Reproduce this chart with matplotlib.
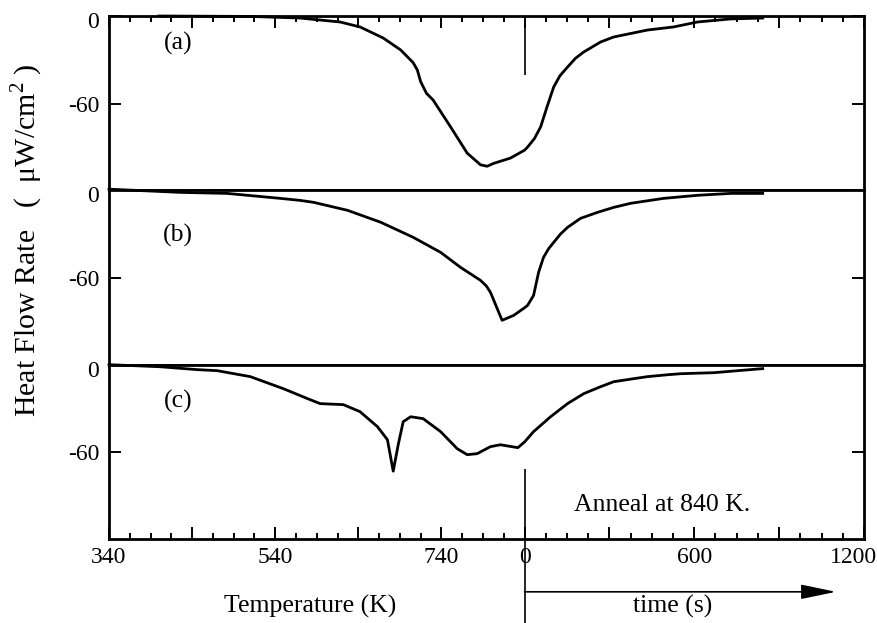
import numpy as np
import matplotlib
matplotlib.use('Agg')
import matplotlib.pyplot as plt
import matplotlib.transforms as mtransforms

plt.rcParams['font.family'] = ['Liberation Serif', 'DejaVu Serif']
plt.rcParams['mathtext.fontset'] = 'custom'
plt.rcParams['mathtext.rm'] = 'Liberation Serif'

# heat flow (uW/cm^2) during the temperature scan (K) and then the anneal at 840 K (s)
a_temp = [400, 510, 570, 618, 642, 670, 691, 706, 711, 715, 722, 730, 751, 771, 787, 795, 803, 823, 840]
a_temp_val = [0, -0.3, -1.4, -4.1, -7.5, -15.1, -23.3, -32, -37, -45, -53, -57.6, -76, -94, -102, -103,
              -101, -97.4, -92]
a_time = [0, 11, 35, 57, 80, 103, 125, 152, 180, 209, 269, 315, 435, 527, 612, 729, 842]
a_time_val = [-92, -89.8, -84, -76, -62, -48.7, -41, -35, -29, -24.7, -17.8, -14.4, -9.6, -7.5, -4.1,
              -2, -1.4]

b_temp = [340, 426, 482, 546, 570, 586, 627, 667, 706, 739, 763, 787, 794, 799, 807, 813, 827, 840]
b_temp_val = [0.8, -1.4, -2.1, -5.5, -6.9, -8.2, -13.7, -21.9, -32.2, -42.5, -52.8, -61.7, -65.5, -69.9,
              -80.9, -89.1, -85.7, -80.5]
b_time = [0, 11, 32, 50, 67, 85, 103, 127, 152, 198, 258, 315, 375, 492, 612, 729, 842]
b_time_val = [-80.5, -78.8, -72, -56, -46, -40, -35.7, -30, -25.4, -19.2, -15.1, -11.7, -8.9, -5.5,
              -3.4, -2.1, -2.1]

c_temp = [340, 401, 446, 470, 510, 550, 579, 594, 622, 642, 663, 675, 682, 688, 694, 703, 718, 739,
          759, 771, 783, 799, 811, 832, 840]
c_temp_val = [0, -1.4, -3.4, -4.1, -8.2, -16.5, -23.3, -26.7, -27.4, -32.2, -42.5, -51.4, -73, -54.9,
              -39.1, -35.7, -37, -45.9, -57.6, -61.7, -61, -56.2, -54.9, -56.9, -53]
c_time = [0, 32, 92, 152, 209, 269, 315, 386, 435, 506, 552, 669, 842]
c_time_val = [-53, -45.9, -35.7, -26.7, -19.9, -15.1, -11.7, -9.6, -8.2, -6.9, -6.2, -5.5, -2.7]

T0, T1 = 340, 840
T_END = 1200
K_PER_S = 0.3404   # width of one second of anneal, in kelvin of the scan axis


def t2u(t):
    return T1 + np.asarray(t, dtype=float) * K_PER_S


fig = plt.figure(figsize=(8.78, 6.23), dpi=100)
left, right = 109 / 878, 864 / 878
bottom, top = 1 - 539 / 623, 1 - 16 / 623
h = (top - bottom) / 3
axes = [fig.add_axes([left, top - (i + 1) * h, right - left, h]) for i in range(3)]

curves = [(a_temp, a_temp_val, a_time, a_time_val),
          (b_temp, b_temp_val, b_time, b_time_val),
          (c_temp, c_temp_val, c_time, c_time_val)]
tags = ['(a)', '(b)', '(c)']
tag_y = [-18.5, -30.9, -25.4]

tfs = 17
fs = 18.5

for ax, (tx, tv, sx, sv), tag, ty in zip(axes, curves, tags, tag_y):
    u = np.concatenate([np.asarray(tx, float), t2u(sx)[1:]])
    v = np.concatenate([tv, sv[1:]])
    ax.plot(u, v, color='black', lw=2.0, clip_on=False, solid_joinstyle='round')
    ax.set_xlim(T0, t2u(T_END))
    ax.set_ylim(-119.5, 0)
    ax.set_yticks([0, -60], ['0', '-60'])
    ax.tick_params(axis='y', direction='in', left=True, right=True, length=8.5,
                   width=1.4, labelsize=tfs, pad=7)
    ax.tick_params(axis='x', bottom=False, top=False, labelbottom=False)
    for s in ax.spines.values():
        s.set_linewidth(2.0)
    ax.text(423, ty, tag, fontsize=fs, ha='center', va='center')
    # the zero labels sit a little below the panel edge
    zl = ax.yaxis.get_major_ticks()[0].label1
    zl.set_transform(zl.get_transform() +
                     mtransforms.ScaledTranslation(0, -4 / 100, fig.dpi_scale_trans))

major_T = np.arange(T0, T1 + 1, 100)
major_t = np.arange(300, T_END + 1, 300)
major_u = np.concatenate([major_T, t2u(major_t)])
major_lab = ['340', '', '540', '', '740', '0', '', '600', '', '1200']
minor_u = np.concatenate([np.arange(T0, T1 + 1, 25), t2u(np.arange(0, T_END + 1, 75))])

ax_a, ax_b, ax_c = axes
for ax in (ax_a, ax_c):
    ax.set_xticks(major_u, major_lab)
    ax.set_xticks(minor_u, minor=True)
ax_a.tick_params(axis='x', which='both', top=True, bottom=False, labeltop=False,
                 labelbottom=False, direction='in', width=1.4)
ax_c.tick_params(axis='x', which='both', bottom=True, top=False, labelbottom=True,
                 direction='in', width=1.4, labelsize=tfs, pad=6)
for ax in (ax_a, ax_c):
    ax.tick_params(axis='x', which='major', length=8.5)
    ax.tick_params(axis='x', which='minor', length=4.5)

# nudge the last time label inside the figure
lab = ax_c.xaxis.get_major_ticks()[-1].label1
lab.set_transform(lab.get_transform() +
                  mtransforms.ScaledTranslation(-11 / 100, 0, fig.dpi_scale_trans))

# start of the anneal
ax_a.vlines(T1, -40.5, 0, color='black', lw=1.2)
ax_c.vlines(T1, -178, -71.3, color='black', lw=1.2, clip_on=False)
ax_c.annotate('', xy=(t2u(1101), -155.7), xytext=(T1, -155.7),
              arrowprops=dict(arrowstyle='-|>,head_length=1.2,head_width=0.25',
                              color='black', lw=1.2, mutation_scale=18,
                              shrinkA=0, shrinkB=0),
              annotation_clip=False)

ax_c.text(t2u(485), -96, 'Anneal at 840 K.', fontsize=fs, ha='center', va='center')
ax_c.text(t2u(524), -166, 'time (s)', fontsize=fs, ha='center', va='center', clip_on=False)
ax_c.text(582, -166, 'Temperature (K)', fontsize=fs, ha='center', va='center', clip_on=False)

fig.text(27 / 878, 1 - 240 / 623, r'Heat Flow Rate   (  μW/cm$^{\mathrm{2}}$ )', rotation=90,
         fontsize=21.5, ha='center', va='center')

fig.savefig('out.png', dpi=100)
